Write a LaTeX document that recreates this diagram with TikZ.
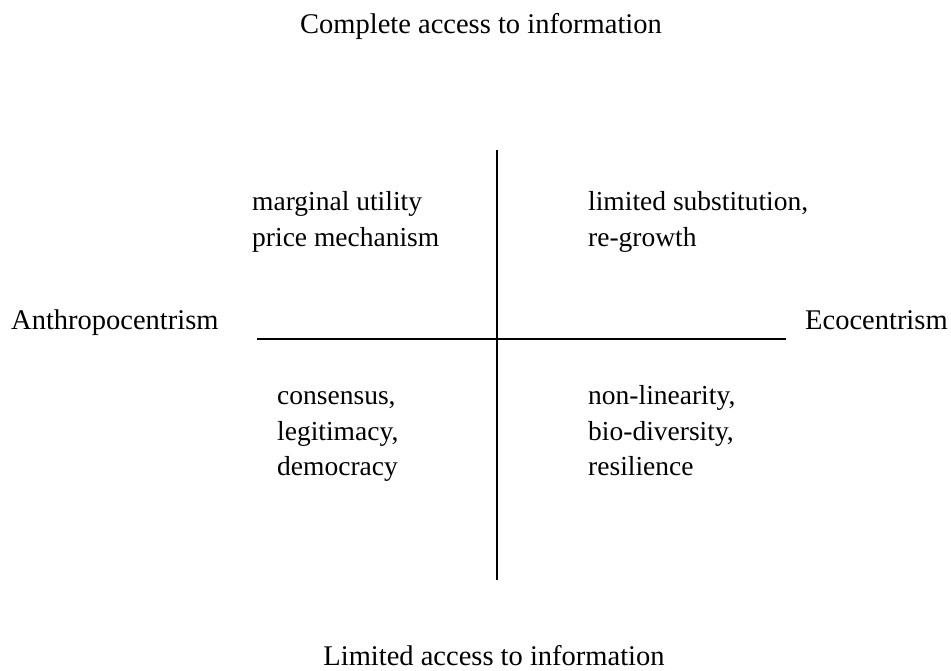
\documentclass[tikz,border=0pt]{standalone}
\usepackage{fontspec}
\setmainfont{Liberation Serif}
\begin{document}
\begin{tikzpicture}[x=1pt,y=-1pt,
  lbl/.style={inner sep=0pt,anchor=base west,font=\fontsize{27.5}{36}\selectfont},
  axlbl/.style={lbl,font=\fontsize{28.5}{36}\selectfont},
  axis/.style={line width=2pt,black}]
\useasboundingbox (0,0) rectangle (951,670);
% axes
\coordinate (vtop) at (497,150);
\coordinate (vbot) at (497,580);
\coordinate (hl) at (257,339);
\coordinate (hr) at (786,339);
\draw[axis] (vtop) -- (vbot);
\draw[axis] (hl) -- (hr);
% axis labels
\node[axlbl,anchor=base] (top) at (481,33) {Complete access to information};
\node[axlbl,anchor=base] (bot) at (494,665) {Limited access to information};
\node[axlbl] (left) at (11,329) {Anthropocentrism};
\node[axlbl] (right) at (805,329) {Ecocentrism};
% quadrant contents
\node[lbl] (q1a) at (252,210) {marginal utility};
\node[lbl] (q1b) at (252,246) {price mechanism};
\node[lbl] (q2a) at (588,210) {limited substitution,};
\node[lbl] (q2b) at (588,246) {re-growth};
\node[lbl] (q3a) at (277,404) {consensus,};
\node[lbl] (q3b) at (277,440) {legitimacy,};
\node[lbl] (q3c) at (277,475) {democracy};
\node[lbl] (q4a) at (588,404) {non-linearity,};
\node[lbl] (q4b) at (588,440) {bio-diversity,};
\node[lbl] (q4c) at (588,475) {resilience};
\end{tikzpicture}
\end{document}
